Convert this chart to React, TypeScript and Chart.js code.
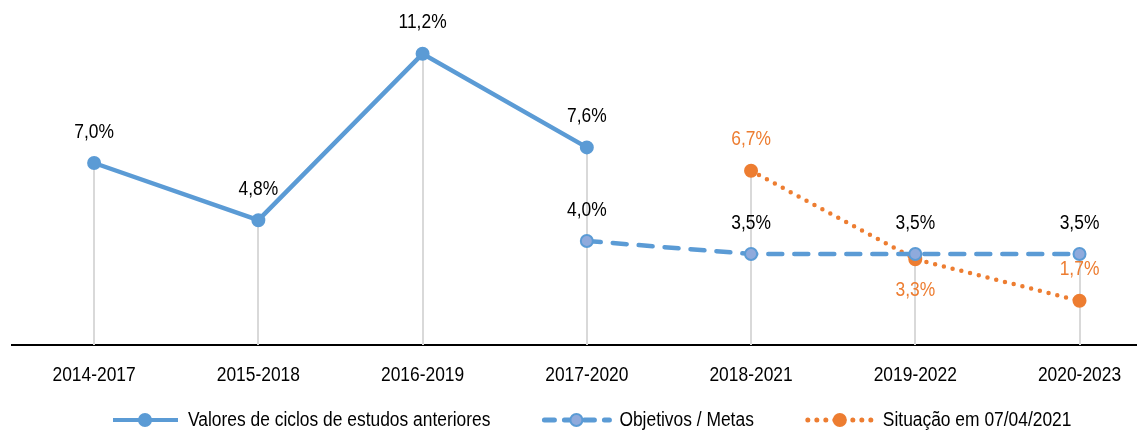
import React, { useEffect, useRef } from 'react';
import { Chart, registerables } from 'chart.js';

Chart.register(...registerables);

const categories = ['2014-2017', '2015-2018', '2016-2019', '2017-2020', '2018-2021', '2019-2022', '2020-2023'];
const pastValues: (number | null)[] = [7.0, 4.8, 11.2, 7.6, null, null, null];
const targetValues: (number | null)[] = [null, null, null, 4.0, 3.5, 3.5, 3.5];
const statusValues: (number | null)[] = [null, null, null, null, 6.7, 3.3, 1.7];
const statusLabelPos = ['above', 'above', 'above', 'above', 'above', 'below', 'above'];
const seriesNames = ['Valores de ciclos de estudos anteriores', 'Objetivos / Metas', 'Situação em 07/04/2021'];

const BLUE = '#5B9BD5';
const BLUE_LIGHT = '#8FAADC';
const ORANGE = '#ED7D31';
const FONT = '"Liberation Sans", Arial, sans-serif';
const NARROW = 0.87;

const toPoints = (vals: (number | null)[]) =>
  vals.map((v, i) => (v == null ? null : { x: i, y: v })).filter((p) => p !== null) as { x: number; y: number }[];

const fmt = (v: number) => v.toFixed(1).replace('.', ',') + '%';

function narrowText(ctx: CanvasRenderingContext2D, text: string, x: number, y: number) {
  ctx.save();
  ctx.translate(x, y);
  ctx.scale(NARROW, 1);
  ctx.fillText(text, 0, 0);
  ctx.restore();
}

const dropLinesPlugin = {
  id: 'dropLines',
  beforeDatasetsDraw(chart: any) {
    const { ctx, chartArea } = chart;
    const tops: Record<number, number> = {};
    chart.data.datasets.forEach((ds: any, di: number) => {
      const meta = chart.getDatasetMeta(di);
      meta.data.forEach((pt: any, j: number) => {
        const xi = ds.data[j].x;
        if (tops[xi] === undefined || pt.y < tops[xi]) tops[xi] = pt.y;
      });
    });
    const xs = chart.scales.x;
    ctx.save();
    ctx.strokeStyle = '#D9D9D9';
    ctx.lineWidth = 2;
    Object.keys(tops).forEach((k) => {
      const x = Math.round(xs.getPixelForValue(Number(k)));
      ctx.beginPath();
      ctx.moveTo(x, tops[Number(k)]);
      ctx.lineTo(x, chartArea.bottom);
      ctx.stroke();
    });
    ctx.restore();
  },
};

const textPlugin = {
  id: 'texts',
  afterDatasetsDraw(chart: any) {
    const { ctx, chartArea } = chart;
    ctx.save();
    ctx.font = `20px ${FONT}`;
    ctx.textAlign = 'center';
    ctx.textBaseline = 'middle';
    chart.data.datasets.forEach((ds: any, di: number) => {
      const meta = chart.getDatasetMeta(di);
      meta.data.forEach((pt: any, j: number) => {
        const d = ds.data[j];
        const pos = di === 2 ? statusLabelPos[d.x] : 'above';
        ctx.fillStyle = di === 2 ? ORANGE : '#000000';
        const y = pos === 'above' ? pt.y - 31 : pt.y + 31;
        narrowText(ctx, fmt(d.y), pt.x, y);
      });
    });
    const xs = chart.scales.x;
    ctx.fillStyle = '#000000';
    categories.forEach((c, i) => {
      narrowText(ctx, c, xs.getPixelForValue(i), chartArea.bottom + 30);
    });
    ctx.restore();
  },
};

type LegendSpec = { color: string; fill: string; dash: number[]; width: number; cap: CanvasLineCap };
const legendSpecs: LegendSpec[] = [
  { color: BLUE, fill: BLUE, dash: [], width: 4, cap: 'butt' },
  { color: BLUE, fill: BLUE_LIGHT, dash: [10, 10], width: 5, cap: 'round' },
  { color: ORANGE, fill: ORANGE, dash: [0, 9], width: 5, cap: 'round' },
];

const legendPlugin = {
  id: 'customLegend',
  afterDraw(chart: any) {
    const { ctx } = chart;
    ctx.save();
    ctx.font = `20px ${FONT}`;
    ctx.textBaseline = 'middle';
    ctx.textAlign = 'left';
    const y = 420;
    const sampleW = 70;
    const gapText = 8;
    const gapItem = 51;
    let x = 110;
    seriesNames.forEach((name, i) => {
      const s = legendSpecs[i];
      ctx.save();
      ctx.strokeStyle = s.color;
      ctx.lineWidth = s.width;
      ctx.lineCap = s.cap;
      ctx.setLineDash(s.dash);
      ctx.beginPath();
      ctx.moveTo(x + 3, y);
      ctx.lineTo(x + sampleW - 2, y);
      ctx.stroke();
      ctx.setLineDash([]);
      ctx.beginPath();
      ctx.arc(x + sampleW / 2, y, 6, 0, Math.PI * 2);
      ctx.fillStyle = s.fill;
      ctx.fill();
      ctx.lineWidth = 2;
      ctx.strokeStyle = s.color;
      ctx.stroke();
      ctx.restore();
      ctx.fillStyle = '#000000';
      narrowText(ctx, name, x + sampleW + gapText, y);
      x += sampleW + gapText + ctx.measureText(name).width * NARROW + gapItem;
    });
    ctx.restore();
  },
};

export default function App() {
  const ref = useRef<HTMLCanvasElement | null>(null);
  useEffect(() => {
    if (!ref.current) return;
    const chart = new Chart(ref.current, {
      type: 'line',
      data: {
        datasets: [
          {
            label: seriesNames[0],
            data: toPoints(pastValues),
            borderColor: BLUE,
            backgroundColor: BLUE,
            borderWidth: 4.5,
            pointRadius: 6,
            pointBorderWidth: 2,
            pointBackgroundColor: BLUE,
            pointBorderColor: BLUE,
            tension: 0,
          },
          {
            label: seriesNames[1],
            data: toPoints(targetValues),
            borderColor: BLUE,
            backgroundColor: BLUE_LIGHT,
            borderWidth: 4.5,
            borderDash: [14, 12],
            borderCapStyle: 'round',
            pointRadius: 6,
            pointBorderWidth: 2,
            pointBackgroundColor: BLUE_LIGHT,
            pointBorderColor: BLUE,
            tension: 0,
          },
          {
            label: seriesNames[2],
            data: toPoints(statusValues),
            borderColor: ORANGE,
            backgroundColor: ORANGE,
            borderWidth: 4.5,
            borderDash: [0, 9],
            borderCapStyle: 'round',
            pointRadius: 6,
            pointBorderWidth: 2,
            pointBackgroundColor: ORANGE,
            pointBorderColor: ORANGE,
            tension: 0,
          },
        ],
      },
      options: {
        animation: false,
        responsive: false,
        maintainAspectRatio: false,
        layout: { autoPadding: false, padding: { left: 12, right: 0, top: 33, bottom: 80 } },
        plugins: {
          legend: { display: false },
          tooltip: { enabled: false },
        },
        scales: {
          x: {
            type: 'linear',
            min: -0.5,
            max: 6.35,
            grid: { display: false },
            border: { display: true, color: '#000000', width: 2 },
            ticks: { display: false },
          },
          y: {
            display: false,
            min: 0,
            max: 12,
          },
        },
      },
      plugins: [dropLinesPlugin, textPlugin, legendPlugin],
    });
    return () => chart.destroy();
  }, []);
  return (
    <div style={{ position: 'fixed', left: 0, top: 0, width: 1137, height: 433, background: '#fff' }}>
      <canvas ref={ref} width={1137} height={433} style={{ display: 'block' }} />
    </div>
  );
}
